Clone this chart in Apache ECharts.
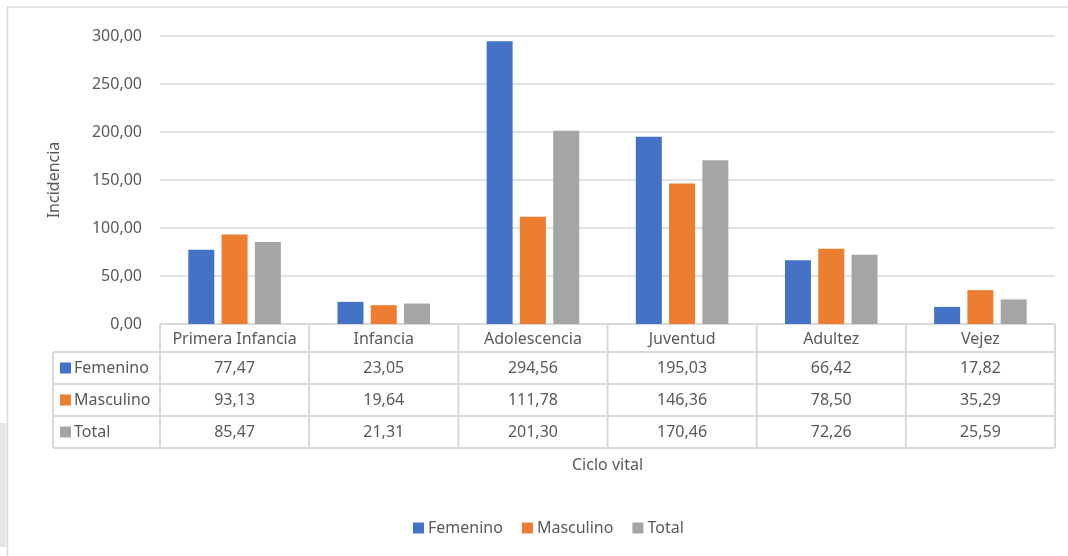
<!DOCTYPE html>
<html><head><meta charset="utf-8">
<script src="https://cdn.jsdelivr.net/npm/echarts@6/dist/echarts.min.js"></script>
<style>html,body{margin:0;padding:0;background:#fff}#c{width:1068px;height:556px}</style>
</head><body><div id="c"></div>
<script>
const categories = ['Primera Infancia','Infancia','Adolescencia','Juventud','Adultez','Vejez'];
const femenino = [77.47, 23.05, 294.56, 195.03, 66.42, 17.82];
const masculino = [93.13, 19.64, 111.78, 146.36, 78.50, 35.29];
const total = [85.47, 21.31, 201.30, 170.46, 72.26, 25.59];
const seriesNames = ['Femenino','Masculino','Total'];
const colors = ['#4472C4','#ED7D31','#A5A5A5'];
const yTicks = [0,50,100,150,200,250,300];

const FONT = 'Noto Sans';
const FS = 16;
const TXT = '#595959';
const LINE = '#d9d9d9';
const fmt = v => v.toFixed(2).replace('.', ',');

const chart = echarts.init(document.getElementById('c'));
const seriesData = [femenino, masculino, total];
chart.setOption({
  animation:false,
  textStyle:{fontFamily:FONT},
  grid:{left:160,right:13,top:36,bottom:232},
  legend:{bottom:20,left:413,icon:'rect',itemWidth:11,itemHeight:11,itemGap:19,padding:0,
    textStyle:{color:TXT,fontSize:FS,fontFamily:FONT,padding:[0,0,0,-1]},data:seriesNames},
  xAxis:{type:'category',data:categories,axisLine:{show:false},axisTick:{show:false},axisLabel:{show:false}},
  yAxis:{type:'value',min:yTicks[0],max:yTicks[yTicks.length-1],interval:50,
    name:'Incidencia',nameLocation:'middle',nameGap:98,nameRotate:90,
    nameTextStyle:{color:TXT,fontSize:FS,fontFamily:FONT},
    axisLabel:{color:TXT,fontSize:FS,margin:18,formatter:v=>fmt(v)},
    splitLine:{lineStyle:{color:LINE,width:1.5}},axisLine:{show:false},axisTick:{show:false}},
  series:seriesData.map((d,i)=>({name:seriesNames[i],type:'bar',data:d,barWidth:26,barGap:'28%',
    itemStyle:{color:colors[i]}}))
});

// Data table built from the same arrays, positioned via the axis scale
const g = [];
const x0 = 53, xr = chart.convertToPixel({xAxisIndex:0}, 0);
const catW = chart.convertToPixel({xAxisIndex:0}, 1) - xr;
const left = xr - catW/2, right = left + catW*categories.length;
const yTop = chart.convertToPixel({yAxisIndex:0}, 0);
const rows = [yTop, yTop+28, yTop+60, yTop+92, yTop+124];
const ls = {stroke:LINE,lineWidth:2};
g.push({type:'line',shape:{x1:left,y1:rows[0],x2:right,y2:rows[0]},style:ls});
for(let r=1;r<rows.length;r++) g.push({type:'line',shape:{x1:x0,y1:rows[r],x2:right,y2:rows[r]},style:ls});
g.push({type:'line',shape:{x1:x0,y1:rows[1],x2:x0,y2:rows[4]},style:ls});
for(let c=0;c<=categories.length;c++){
  const x = left + catW*c;
  g.push({type:'line',shape:{x1:x,y1:rows[0],x2:x,y2:rows[4]},style:ls});
}
const font = FS+'px '+FONT;
categories.forEach((cat,c)=>{
  const cx = chart.convertToPixel({xAxisIndex:0}, c);
  g.push({type:'text',x:cx,y:(rows[0]+rows[1])/2+1,style:{text:cat,fill:TXT,font:font,align:'center',verticalAlign:'middle'}});
  seriesData.forEach((d,i)=>{
    g.push({type:'text',x:cx,y:(rows[i+1]+rows[i+2])/2,style:{text:fmt(d[c]),fill:TXT,font:font,align:'center',verticalAlign:'middle'}});
  });
});
seriesNames.forEach((n,i)=>{
  const cy = (rows[i+1]+rows[i+2])/2;
  g.push({type:'rect',shape:{x:60,y:cy-5.5,width:11,height:11},style:{fill:colors[i]}});
  g.push({type:'text',x:74,y:cy,style:{text:n,fill:TXT,font:font,align:'left',verticalAlign:'middle'}});
});
g.push({type:'text',x:(left+right)/2,y:465,style:{text:'Ciclo vital',fill:TXT,font:font,align:'center',verticalAlign:'middle'}});
g.push({type:'line',shape:{x1:7,y1:7,x2:1068,y2:7},style:{stroke:LINE,lineWidth:1.5}});
g.push({type:'line',shape:{x1:7.5,y1:7,x2:7.5,y2:556},style:{stroke:LINE,lineWidth:1.5}});
g.push({type:'rect',shape:{x:0,y:423,width:6.5,height:124},style:{fill:'#e6e6e6'}});
chart.setOption({graphic:g});
</script></body></html>
